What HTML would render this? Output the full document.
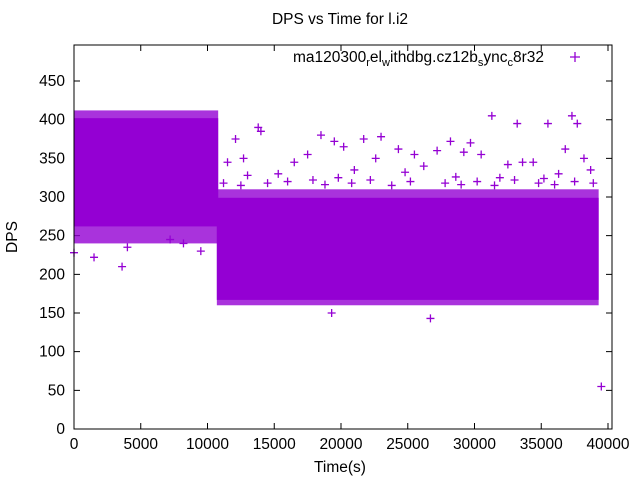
<!DOCTYPE html>
<html><head><meta charset="utf-8"><style>
body{margin:0;background:#fff}
svg{display:block;font-family:"Liberation Sans",sans-serif}
</style></head><body>
<svg id="chart" width="640" height="480">
<text x="340" y="24" font-size="15.5" text-anchor="middle">DPS vs Time for l.i2</text>
<text x="17" y="237" font-size="15.5" text-anchor="middle" transform="rotate(-90 17 237)">DPS</text>
<text x="340" y="472" font-size="15.5" text-anchor="middle">Time(s)</text>
<g id="ticks"></g>
<g id="marks"></g>
<rect x="74" y="45" width="538" height="384" fill="none" stroke="#000" stroke-width="1"/>
<g>
<text x="544" y="62" font-size="15.5" text-anchor="end">ma120300<tspan font-size="11" dy="4">r</tspan><tspan dy="-4">el</tspan><tspan font-size="11" dy="4">w</tspan><tspan dy="-4">ithdbg.cz12b</tspan><tspan font-size="11" dy="4">s</tspan><tspan dy="-4">ync</tspan><tspan font-size="11" dy="4">c</tspan><tspan dy="-4">8r32</tspan></text>
<path d="M570 57h10M575 52v10" stroke="#9400d3" stroke-width="1.3"/>
</g>
</svg>
<script>
const xTicks=[0,5000,10000,15000,20000,25000,30000,35000,40000];
const yTicks=[0,50,100,150,200,250,300,350,400,450];
// dense bands: [xStart, xEnd, yLow, yHigh]
const bandX0=[0,10700];
const bandX1=[10800,39300];
const bandLow=[262,167];
const bandHigh=[402,299];
const fringeLow=[240,160];
const fringeHigh=[412,310];
const outX=[0,3600,4000,7200,9500,1500,8200,26700,19300,39500,31300,33200,35500,37300,37700,12100,13800,14000,18500,19500,21700,23000,24300,28200,29700,29200,30500,32500,34400,36800,11500,12700,16500,17500,20200,22600,25500,27200,33600,38200,15300,24800,13000,21000,26200,31900,36300,38700,11200,17900,12500,14500,16000,18800,20800,22200,23800,25200,27800,29000,30200,31500,33000,34800,36000,37500,38900,19800,28600,35200];
const outY=[228,210,235,245,230,222,240,143,150,55,405,395,395,405,395,375,390,385,380,372,375,378,362,372,370,358,355,342,345,362,345,350,345,355,365,350,355,360,345,350,330,332,328,335,340,325,330,335,318,322,315,318,320,316,318,322,315,320,318,316,320,315,322,318,316,320,318,325,326,324];
const X0=74,X1=612,Y0=429,Y1=45,XMAX=40300,YMAX=496.6;
const sx=v=>X0+v/XMAX*(X1-X0);
const sy=v=>Y0-v/YMAX*(Y0-Y1);
const NS="http://www.w3.org/2000/svg";
const ticks=document.getElementById('ticks'),marks=document.getElementById('marks');
function mk(tag,attrs,parent){const e=document.createElementNS(NS,tag);for(const k in attrs)e.setAttribute(k,attrs[k]);parent.appendChild(e);return e;}
xTicks.forEach(t=>{
 const l=mk('path',{d:`M${sx(t)} ${Y0}v-6M${sx(t)} ${Y1}v6`,stroke:'#000'},ticks);
 
 
 const tx=mk('text',{x:sx(t),y:Y0+20,'font-size':15.5,'text-anchor':'middle'},ticks);tx.textContent=t;
 
 
});
yTicks.forEach(t=>{
 const l=mk('path',{d:`M${X0} ${sy(t)}h6M${X1} ${sy(t)}h-6`,stroke:'#000'},ticks);
 
 
 const tx=mk('text',{x:X0-9,y:sy(t)+5,'font-size':15.5,'text-anchor':'end'},ticks);tx.textContent=t;
 
 
});
bandX0.forEach((b,i)=>{
 const f=mk('rect',{x:sx(b),y:sy(fringeHigh[i]),width:sx(bandX1[i])-sx(b),height:sy(fringeLow[i])-sy(fringeHigh[i]),fill:'#9400d3','fill-opacity':0.8},marks);
 
 
 const r=mk('rect',{x:sx(b),y:sy(bandHigh[i]),width:sx(bandX1[i])-sx(b),height:sy(bandLow[i])-sy(bandHigh[i]),fill:'#9400d3'},marks);
 
 
});
outX.forEach((x,i)=>{
 const p=mk('path',{d:`M${sx(x)-4} ${sy(outY[i])}h8M${sx(x)} ${sy(outY[i])-4}v8`,stroke:'#9400d3','stroke-width':1.3},marks);
 
 
});
</script>
</body></html>
